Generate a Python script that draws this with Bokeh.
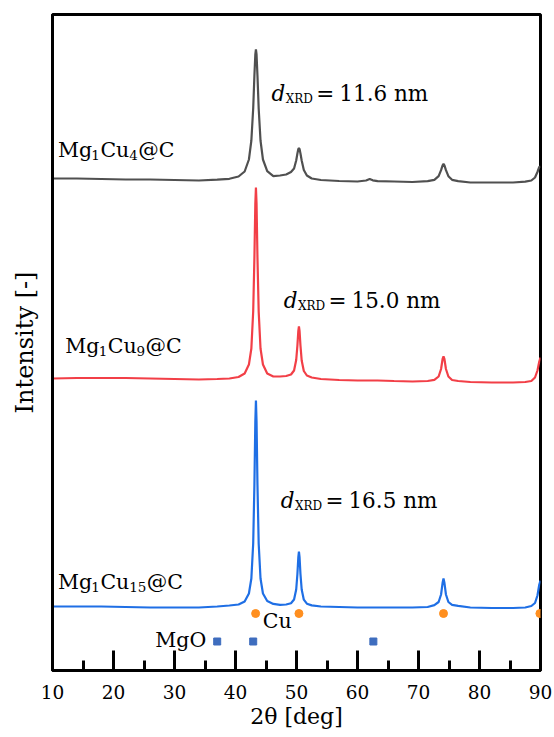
from bokeh.plotting import figure
from bokeh.models import FixedTicker, Range1d
from bokeh.core.properties import value
from bokeh.embed import file_html
from bokeh.resources import INLINE

# ---------------- data ----------------
two_theta = [10, 14, 18, 22, 26, 30, 34, 37, 39, 40.5, 41.5, 42.2, 42.6, 42.9, 43.1, 43.25,
             43.35, 43.45, 43.6, 43.8, 44.1, 44.5, 45.2, 46.2, 47.3, 48.3, 49.1, 49.6, 49.95,
             50.15, 50.3, 50.4, 50.5, 50.65, 50.85, 51.2, 51.7, 52.5, 54, 57, 60, 61.4, 62.0,
             62.5, 63.3, 66, 69, 71.5, 72.6, 73.3, 73.7, 73.95, 74.1, 74.25, 74.5, 74.9, 75.5,
             76.5, 78.5, 82, 85.5, 87.5, 88.5, 89.1, 89.5, 89.8, 90]

I_mg1cu15 = [0, 0, 0, -0.5, -1, -1, -1, 0, 1, 2, 5, 13, 28, 63, 122, 185,
             206, 185, 122, 63, 28, 13, 5.5, 2.6, 1.7, 2, 3.3, 7, 17,
             32.5, 49.5, 55, 49.5, 32.5, 17, 6.8, 2.8, 1.1, 0, -0.5, -1, -1, -1,
             -1, -1, -1, -1, -0.5, 1.4, 4.5, 12, 23.7, 28, 23.7, 12, 4.5, 1.6,
             0.6, -1, -1.5, -1.5, -1, 0.5, 3.5, 11, 22, 26]

I_mg1cu9 = [0, 0.5, 0.5, 0.5, 0, -0.5, -1, -0.5, 0, 1.5, 5, 14, 30, 67, 121, 175,
            191, 175, 121, 67, 30, 14, 5, 2, 2, 2.5, 4, 8, 18.5,
            33, 47.6, 52, 47.6, 33, 18, 7.5, 3, 1, -0.5, -1.5, -2, -2, -2,
            -2, -2, -2.5, -3, -2.5, -1.4, 2, 9.5, 19.5, 22, 19.5, 9.5, 2, -1.5,
            -2.5, -3.5, -4, -4, -3.5, -2.5, 1, 8, 17, 21]

I_mg1cu4 = [0, 0, -0.5, -1, -1, -1.5, -2, -1.2, -0.3, 2, 7, 19, 38, 70, 103, 124,
            129, 124, 103, 70, 38, 19, 7.4, 2.4, 3, 4, 6.5, 10, 18,
            25, 29.5, 30.5, 29.5, 25, 18, 8.5, 3, 0, -1.5, -2.5, -3, -2, -0.5,
            -1.8, -2.6, -3, -3.5, -2.7, -1.4, 2.3, 8.3, 13.2, 14.5, 13.2, 8.3, 2.3, -1.3,
            -2.6, -4, -4, -4, -3.2, -2, 1, 6.5, 11.5, 12]

samples = ["Mg1Cu15@C", "Mg1Cu9@C", "Mg1Cu4@C"]
offsets = [64, 292, 492]          # vertical stacking offsets (a.u.)
d_xrd = ["16.5", "15.0", "11.6"]   # crystallite size, nm
colors = ["#1f6fe5", "#f23f47", "#505050"]

cu_peaks = [43.3, 50.4, 74.1, 89.9]
mgo_peaks = [37.0, 42.9, 62.6]
CU_ROW, MGO_ROW = 57, 29

x_ticks = [10, 20, 30, 40, 50, 60, 70, 80, 90]
x_minor = [15, 25, 35, 45, 55, 65, 75, 85]

# ---------------- figure ----------------
FONT = "DejaVu Serif"
p = figure(width=554, height=737, x_range=Range1d(10, 90), y_range=Range1d(0, 656),
           output_backend="svg", toolbar_location=None,
           min_border_left=52, min_border_right=14, min_border_top=14, min_border_bottom=67)
p.grid.visible = False
p.outline_line_color = "black"
p.outline_line_width = 3
p.background_fill_color = "white"
p.border_fill_color = "white"

xa = p.xaxis[0]
xa.ticker = FixedTicker(ticks=x_ticks, minor_ticks=x_minor)
xa.major_tick_in = 20
xa.major_tick_out = 0
xa.minor_tick_in = 10
xa.minor_tick_out = 0
xa.axis_line_width = 3
xa.major_tick_line_width = 3
xa.minor_tick_line_width = 3
xa.axis_line_color = "black"
xa.major_tick_line_color = "black"
xa.minor_tick_line_color = "black"
xa.major_label_text_font = FONT
xa.major_label_text_font_size = "18.5px"
xa.major_label_text_color = "black"
xa.major_label_text_line_height = 1.0
xa.major_label_standoff = 14
xa.axis_label = "2θ [deg]"
xa.axis_label_text_font = FONT
xa.axis_label_text_font_size = "22px"
xa.axis_label_text_font_style = "normal"
xa.axis_label_text_color = "black"
xa.axis_label_text_line_height = 1.0
xa.axis_label_standoff = 2

ya = p.yaxis[0]
ya.ticker = FixedTicker(ticks=[])
ya.major_tick_in = 0
ya.major_tick_out = 0
ya.minor_tick_in = 0
ya.minor_tick_out = 0
ya.axis_line_width = 3
ya.axis_line_color = "black"
ya.axis_label = "Intensity [-]"
ya.axis_label_text_font = FONT
ya.axis_label_text_font_size = "24px"
ya.axis_label_text_font_style = "normal"
ya.axis_label_text_color = "black"
ya.axis_label_standoff = 14

# traces
for inten, off, col in zip([I_mg1cu15, I_mg1cu9, I_mg1cu4], offsets, colors):
    p.line(two_theta, [v + off for v in inten], line_color=col, line_width=2.2)

# reference markers
p.scatter(cu_peaks, [CU_ROW] * len(cu_peaks), marker="circle", size=8,
          fill_color="#ff8f1f", line_color="#ff8f1f")
p.scatter(mgo_peaks, [MGO_ROW] * len(mgo_peaks), marker="square", size=7,
          fill_color="#3e6dbe", line_color="#3e6dbe")

# ---------------- rich text helper (DejaVu Serif advance widths, em/1000) ----------------
W = {"M": 963, "g": 640, "C": 734, "u": 644, "@": 1000, "d": 640, "X": 730, "R": 735,
     "D": 829, " ": 318, "=": 838, ".": 318, "n": 644, "m": 948, "O": 820}
for c in "0123456789":
    W[c] = 636


def tw(s, size):
    return sum(W.get(c, 640) for c in s) * size / 1000.0


def rich(x, y, pieces, align="left"):
    # pieces: (text, size, dy, style, extra gap before in px)
    total = sum(tw(t, s) + g for t, s, _, _, g in pieces)
    off = 0.0 if align == "left" else (-total if align == "right" else -total / 2)
    for t, s, dy, st, g in pieces:
        off += g
        p.text(x=[x], y=[y], text=[t], x_offset=off, y_offset=dy,
               text_font=value(FONT), text_font_size=f"{s}px", text_font_style=st,
               text_color="black", text_align="left", text_baseline="alphabetic")
        off += tw(t, s)


def sample_pieces(name):
    # "Mg1Cu15@C" -> Mg, sub 1, Cu, sub 15, @C
    rest = name[3:]
    n = rest[2:rest.index("@")]
    return [("Mg", 20.5, 0, "normal", 0), ("1", 13.5, 5, "normal", 0.5),
            ("Cu", 20.5, 0, "normal", 0.5), (n, 13.5, 5, "normal", 0.5),
            ("@C", 20.5, 0, "normal", 0.5)]


label_pos = [(10.9, 89), (12.1, 325), (10.9, 521)]
d_pos = [(47.4, 170), (47.9, 370), (45.9, 577)]

for name, (lx, ly) in zip(samples, label_pos):
    rich(lx, ly, sample_pieces(name))

for d, (dx, dy_) in zip(d_xrd, d_pos):
    rich(dx, dy_, [("d", 21.5, 0, "italic", 0), ("XRD", 12, 5, "normal", 0.5),
                   ("=", 21.5, 0, "normal", 3), (d + " nm", 21.5, 0, "normal", 5)])

rich(46.8, 50, [("Cu", 20.5, 0, "normal", 0)], align="center")
rich(35.0, 31, [("MgO", 20.5, 0, "normal", 0)], align="right")

open("out.html", "w").write(file_html(p, INLINE))
